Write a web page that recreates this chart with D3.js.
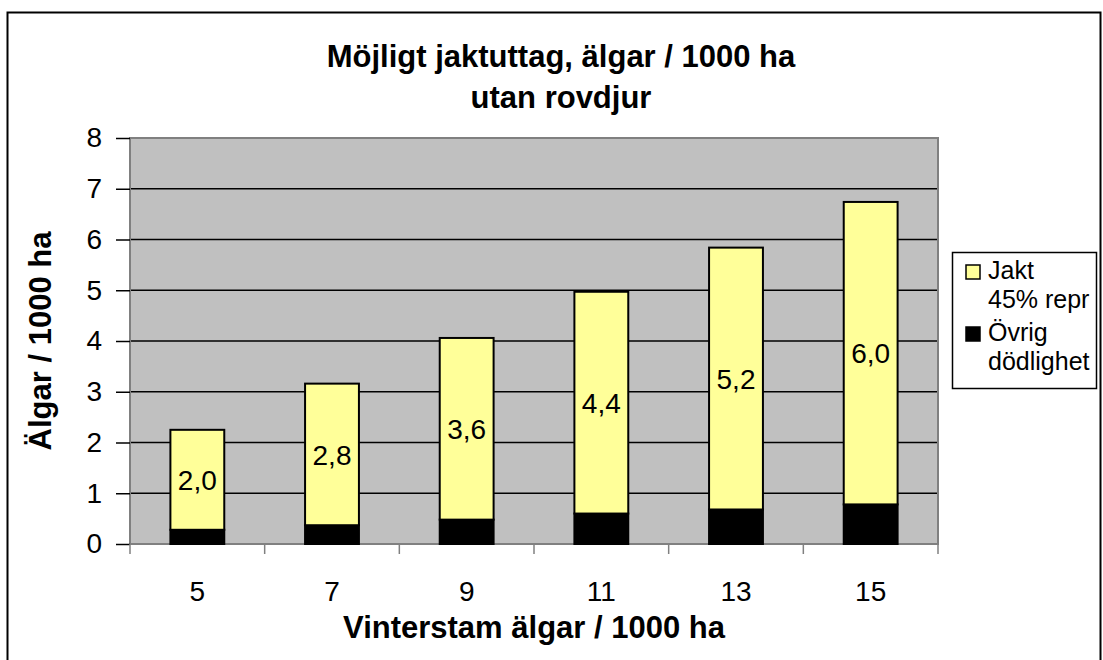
<!DOCTYPE html>
<html>

<head>
    <title>jaktuttag</title>
    <script src="https://cdn.jsdelivr.net/npm/d3@7"></script>
    <style>
        body { margin: 0; background: #fff; }
        text { font-family: "Liberation Sans", Arial, sans-serif; }
    </style>
</head>

<body>
    <script>
        // data
        const categories = ["5", "7", "9", "11", "13", "15"];
        const jakt = [1.97, 2.79, 3.58, 4.37, 5.16, 5.96];
        const ovrig = [0.28, 0.37, 0.48, 0.60, 0.68, 0.78];
        const yTicks = [0, 1, 2, 3, 4, 5, 6, 7, 8];
        const seriesNames = [["Jakt", "45% repr"], ["Övrig", "dödlighet"]];
        const colors = ["#FFFF99", "#000000"];

        const width = 1103, height = 660;
        const plot = { left: 130, right: 938, top: 138, bottom: 544 };

        const svg = d3.select("body").append("svg")
            .attr("width", width).attr("height", height);

        // chart frame
        svg.append("rect")
            .attr("x", 7.5).attr("y", 12.5)
            .attr("width", 1093).attr("height", 700)
            .attr("fill", "#fff").attr("stroke", "#000").attr("stroke-width", 2);

        const x = d3.scaleBand()
            .domain(categories)
            .range([plot.left, plot.right])
            .paddingInner(0.6)
            .paddingOuter(0.3);

        const y = d3.scaleLinear()
            .domain([0, 8])
            .range([plot.bottom, plot.top]);

        // plot background
        svg.append("rect")
            .attr("x", plot.left).attr("y", plot.top)
            .attr("width", plot.right - plot.left)
            .attr("height", plot.bottom - plot.top)
            .attr("fill", "#C0C0C0");

        // gridlines
        svg.append("g")
            .selectAll("line")
            .data(yTicks.filter(d => d > 0 && d < 8))
            .join("line")
            .attr("x1", plot.left).attr("x2", plot.right)
            .attr("y1", d => y(d)).attr("y2", d => y(d))
            .attr("stroke", "#000").attr("stroke-width", 1.5);

        // plot border
        svg.append("rect")
            .attr("x", plot.left).attr("y", plot.top)
            .attr("width", plot.right - plot.left)
            .attr("height", plot.bottom - plot.top)
            .attr("fill", "none").attr("stroke", "#808080").attr("stroke-width", 2);

        // stacked bars
        const rows = categories.map((c, i) => ({ cat: c, ovrig: ovrig[i], jakt: jakt[i] }));
        const stack = d3.stack().keys(["ovrig", "jakt"])(rows);

        svg.append("g")
            .selectAll("g")
            .data(stack)
            .join("g")
            .attr("fill", d => d.key === "jakt" ? colors[0] : colors[1])
            .selectAll("rect")
            .data(d => d)
            .join("rect")
            .attr("x", d => x(d.data.cat))
            .attr("width", x.bandwidth())
            .attr("y", d => y(d[1]))
            .attr("height", d => y(d[0]) - y(d[1]))
            .attr("stroke", "#000").attr("stroke-width", 2);

        // value labels on the yellow part
        svg.append("g")
            .selectAll("text")
            .data(stack[1])
            .join("text")
            .attr("x", d => x(d.data.cat) + x.bandwidth() / 2)
            .attr("y", d => (y(d[0]) + y(d[1])) / 2)
            .attr("dy", "0.36em")
            .attr("text-anchor", "middle")
            .attr("font-size", 28)
            .text(d => d.data.jakt.toFixed(1).replace(".", ","));

        // y axis
        const gy = svg.append("g")
            .attr("transform", `translate(${plot.left},0)`)
            .call(d3.axisLeft(y).tickValues(yTicks).tickSize(14).tickPadding(14));
        gy.select(".domain").remove();
        gy.selectAll(".tick line").attr("stroke", "#000").attr("stroke-width", 1.5);
        gy.selectAll(".tick text").attr("font-size", 28).attr("fill", "#000")
            .attr("font-family", "Liberation Sans, Arial, sans-serif");

        // x axis, ticks between categories
        svg.append("g")
            .selectAll("line")
            .data(d3.range(categories.length + 1))
            .join("line")
            .attr("x1", i => plot.left + i * x.step())
            .attr("x2", i => plot.left + i * x.step())
            .attr("y1", plot.bottom).attr("y2", plot.bottom + 10)
            .attr("stroke", "#808080").attr("stroke-width", 1.5);

        svg.append("g")
            .selectAll("text")
            .data(categories)
            .join("text")
            .attr("x", d => x(d) + x.bandwidth() / 2)
            .attr("y", 601)
            .attr("text-anchor", "middle")
            .attr("font-size", 28)
            .text(d => d);

        // axis titles
        svg.append("text")
            .attr("x", (plot.left + plot.right) / 2).attr("y", 638)
            .attr("text-anchor", "middle")
            .attr("font-size", 31).attr("font-weight", "bold")
            .text("Vinterstam älgar / 1000 ha");

        svg.append("text")
            .attr("transform", `translate(51,${(plot.top + plot.bottom) / 2}) rotate(-90)`)
            .attr("text-anchor", "middle")
            .attr("font-size", 31).attr("font-weight", "bold")
            .text("Älgar / 1000 ha");

        // title
        const title = svg.append("text")
            .attr("text-anchor", "middle")
            .attr("font-size", 31).attr("font-weight", "bold");
        title.append("tspan").attr("x", 561).attr("y", 67).text("Möjligt jaktuttag, älgar / 1000 ha");
        title.append("tspan").attr("x", 561).attr("y", 108).text("utan rovdjur");

        // legend
        const legend = svg.append("g");
        legend.append("rect")
            .attr("x", 952.5).attr("y", 252.5)
            .attr("width", 144).attr("height", 136)
            .attr("fill", "#fff").attr("stroke", "#000").attr("stroke-width", 1.5);

        const items = legend.selectAll("g")
            .data(seriesNames)
            .join("g")
            .attr("transform", (d, i) => `translate(0,${i * 62})`);

        items.append("rect")
            .attr("x", 966).attr("y", 265)
            .attr("width", 14).attr("height", 14)
            .attr("fill", (d, i) => colors[i])
            .attr("stroke", "#000").attr("stroke-width", 1.5);

        items.append("text")
            .attr("x", 988).attr("y", 279)
            .attr("font-size", 25)
            .text(d => d[0]);
        items.append("text")
            .attr("x", 988).attr("y", 308)
            .attr("font-size", 25)
            .text(d => d[1]);
    </script>
</body>

</html>
